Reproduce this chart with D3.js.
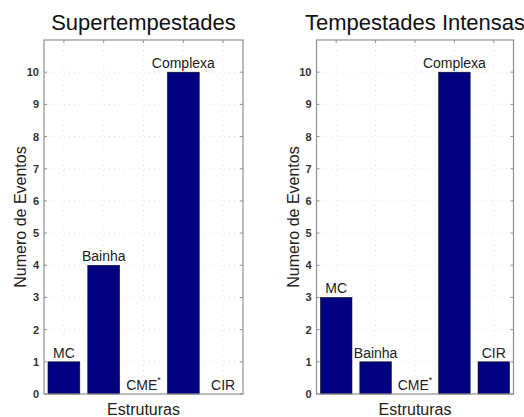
<!DOCTYPE html>
<html>
<head>
    <meta charset="utf-8">
    <script src="https://d3js.org/d3.v7.min.js"></script>
    <style>
        body { margin: 0; background: #fff; }
        text { font-family: "Liberation Sans", Arial, sans-serif; }
    </style>
</head>
<body>
    <svg id="chart" width="524" height="417"></svg>

    <script>
    // data
    const structures = ["MC", "Bainha", "CME", "Complexa", "CIR"];
    const superValues = [1, 4, 0, 10, 0];
    const intenseValues = [3, 1, 0, 10, 1];
    const panelTitles = ["Supertempestades", "Tempestades Intensas"];
    const yTicks = [0, 1, 2, 3, 4, 5, 6, 7, 8, 9, 10];

    const svg = d3.select("#chart");
    const plotTop = 40, plotBottom = 394;
    const barColor = "#000080";
    const axisColor = "#8f8f8f";

    const drawPanel = function (left, right, title, values) {
        const g = svg.append("g");

        // matlab style x limits: categories at 1..5, xlim [0.5, 5.5], bar width 0.8
        const x = d3.scaleLinear().domain([0.5, 5.5]).range([left, right]);
        const y = d3.scaleLinear().domain([0, 11]).range([plotBottom, plotTop]);
        const barW = x(1.8) - x(1);

        // dotted grid
        g.selectAll(".gy").data(yTicks.slice(1)).join("line")
            .attr("class", "gy")
            .attr("x1", left).attr("x2", right)
            .attr("y1", d => y(d)).attr("y2", d => y(d))
            .attr("stroke", "#e2e2e2").attr("stroke-dasharray", "1,4");
        g.selectAll(".gx").data(d3.range(1, 6)).join("line")
            .attr("class", "gx")
            .attr("x1", d => x(d)).attr("x2", d => x(d))
            .attr("y1", plotTop).attr("y2", plotBottom)
            .attr("stroke", "#e2e2e2").attr("stroke-dasharray", "1,4");

        // bars
        g.selectAll(".bar").data(values).join("rect")
            .attr("class", "bar")
            .attr("x", (d, i) => x(i + 1) - barW / 2)
            .attr("y", d => y(d))
            .attr("width", barW)
            .attr("height", d => y(0) - y(d))
            .attr("fill", barColor)
            .attr("stroke", "#111")
            .attr("stroke-width", 0.6);

        // bar labels
        const labels = g.selectAll(".lab").data(values).join("text")
            .attr("class", "lab")
            .attr("x", (d, i) => x(i + 1))
            .attr("y", d => y(d) - 4)
            .attr("text-anchor", "middle")
            .attr("font-size", 14)
            .attr("fill", "#222")
            .text((d, i) => structures[i]);
        labels.filter((d, i) => structures[i] === "CME")
            .append("tspan")
            .attr("dy", -7)
            .attr("font-size", 9)
            .text("*");

        // box
        g.append("rect")
            .attr("x", left).attr("y", plotTop)
            .attr("width", right - left).attr("height", plotBottom - plotTop)
            .attr("fill", "none")
            .attr("stroke", axisColor)
            .attr("stroke-width", 1.2);

        // inward ticks
        g.selectAll(".ty").data(yTicks).join("line")
            .attr("class", "ty")
            .attr("x1", left).attr("x2", left + 3)
            .attr("y1", d => y(d)).attr("y2", d => y(d))
            .attr("stroke", axisColor);
        g.selectAll(".tyr").data(yTicks).join("line")
            .attr("class", "tyr")
            .attr("x1", right - 3).attr("x2", right)
            .attr("y1", d => y(d)).attr("y2", d => y(d))
            .attr("stroke", axisColor);
        g.selectAll(".tx").data(d3.range(1, 6)).join("line")
            .attr("class", "tx")
            .attr("x1", d => x(d)).attr("x2", d => x(d))
            .attr("y1", plotTop).attr("y2", plotTop + 3)
            .attr("stroke", axisColor);

        // y tick labels
        g.selectAll(".yl").data(yTicks).join("text")
            .attr("class", "yl")
            .attr("x", left - 5)
            .attr("y", d => y(d) + 4)
            .attr("text-anchor", "end")
            .attr("font-size", 11)
            .attr("font-weight", "bold")
            .attr("fill", "#333")
            .text(d => d);

        // titles
        g.append("text")
            .attr("x", (left + right) / 2).attr("y", 30)
            .attr("text-anchor", "middle")
            .attr("font-size", 22)
            .attr("fill", "#111")
            .text(title);
        g.append("text")
            .attr("x", (left + right) / 2).attr("y", 415)
            .attr("text-anchor", "middle")
            .attr("font-size", 16)
            .attr("fill", "#222")
            .text("Estruturas");
        g.append("text")
            .attr("transform", `translate(${left - 18},${(plotTop + plotBottom) / 2}) rotate(-90)`)
            .attr("text-anchor", "middle")
            .attr("font-size", 16)
            .attr("fill", "#222")
            .text("Numero de Eventos");
    };

    drawPanel(44, 243, panelTitles[0], superValues);
    drawPanel(316.5, 513.5, panelTitles[1], intenseValues);
    </script>
</body>
</html>
